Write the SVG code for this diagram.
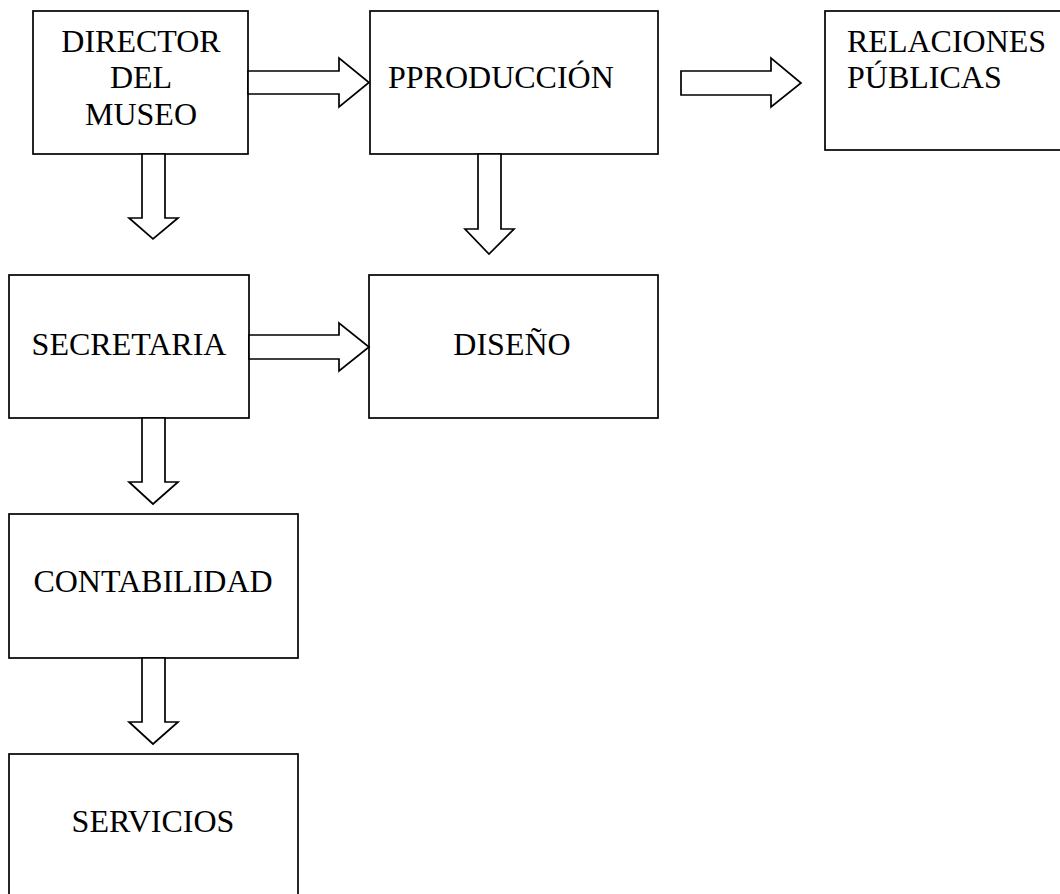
<svg xmlns="http://www.w3.org/2000/svg" width="1060" height="894" viewBox="0 0 1060 894">
<style>
.box{fill:#fff;stroke:#000;stroke-width:1.7}
.arr{fill:#fff;stroke:#000;stroke-width:1.7;stroke-linejoin:miter}
.t{font-family:"Liberation Serif","Times New Roman",serif;font-size:32px;fill:#000}
.c{text-anchor:middle}
</style>
<rect width="1060" height="894" fill="#fff"/>
<g id="director">
<rect class="box" x="33" y="11" width="215" height="143"/>
<text class="t c" x="141" y="52">DIRECTOR</text>
<text class="t c" x="141" y="88">DEL</text>
<text class="t c" x="141" y="125">MUSEO</text>
</g>
<g id="produccion">
<rect class="box" x="370" y="11" width="288" height="143"/>
<text class="t" x="388" y="88">PPRODUCCIÓN</text>
</g>
<g id="relaciones">
<rect class="box" x="825" y="11" width="250" height="139"/>
<text class="t" x="847" y="52">RELACIONES</text>
<text class="t" x="847" y="88">PÚBLICAS</text>
</g>
<g id="secretaria">
<rect class="box" x="9" y="275" width="240" height="143"/>
<text class="t c" x="129" y="355">SECRETARIA</text>
</g>
<g id="diseno">
<rect class="box" x="369" y="275" width="289" height="143"/>
<text class="t c" x="512" y="355">DISEÑO</text>
</g>
<g id="contabilidad">
<rect class="box" x="9" y="514" width="289" height="144"/>
<text class="t c" x="153" y="592">CONTABILIDAD</text>
</g>
<g id="servicios">
<rect class="box" x="9" y="754" width="289" height="146"/>
<text class="t c" x="153" y="832">SERVICIOS</text>
</g>
<g id="connectors">
<polygon class="arr" points="248,71 339,71 339,58 369,82.5 339,107 339,94 248,94"/>
<polygon class="arr" points="681,71 771,71 771,58 801,83 771,107 771,95 681,95"/>
<polygon class="arr" points="249,335 339,335 339,323 369,347 339,371 339,359 249,359"/>
<polygon class="arr" points="142,154 142,218 129,218 153,239 178,218 165,218 165,154"/>
<polygon class="arr" points="478,154 478,229 465,229 489,254 514,229 501,229 501,154"/>
<polygon class="arr" points="142,418 142,482 129,482 153,504 178,482 165,482 165,418"/>
<polygon class="arr" points="142,658 142,722 129,722 153,744 178,722 165,722 165,658"/>
</g>
</svg>
